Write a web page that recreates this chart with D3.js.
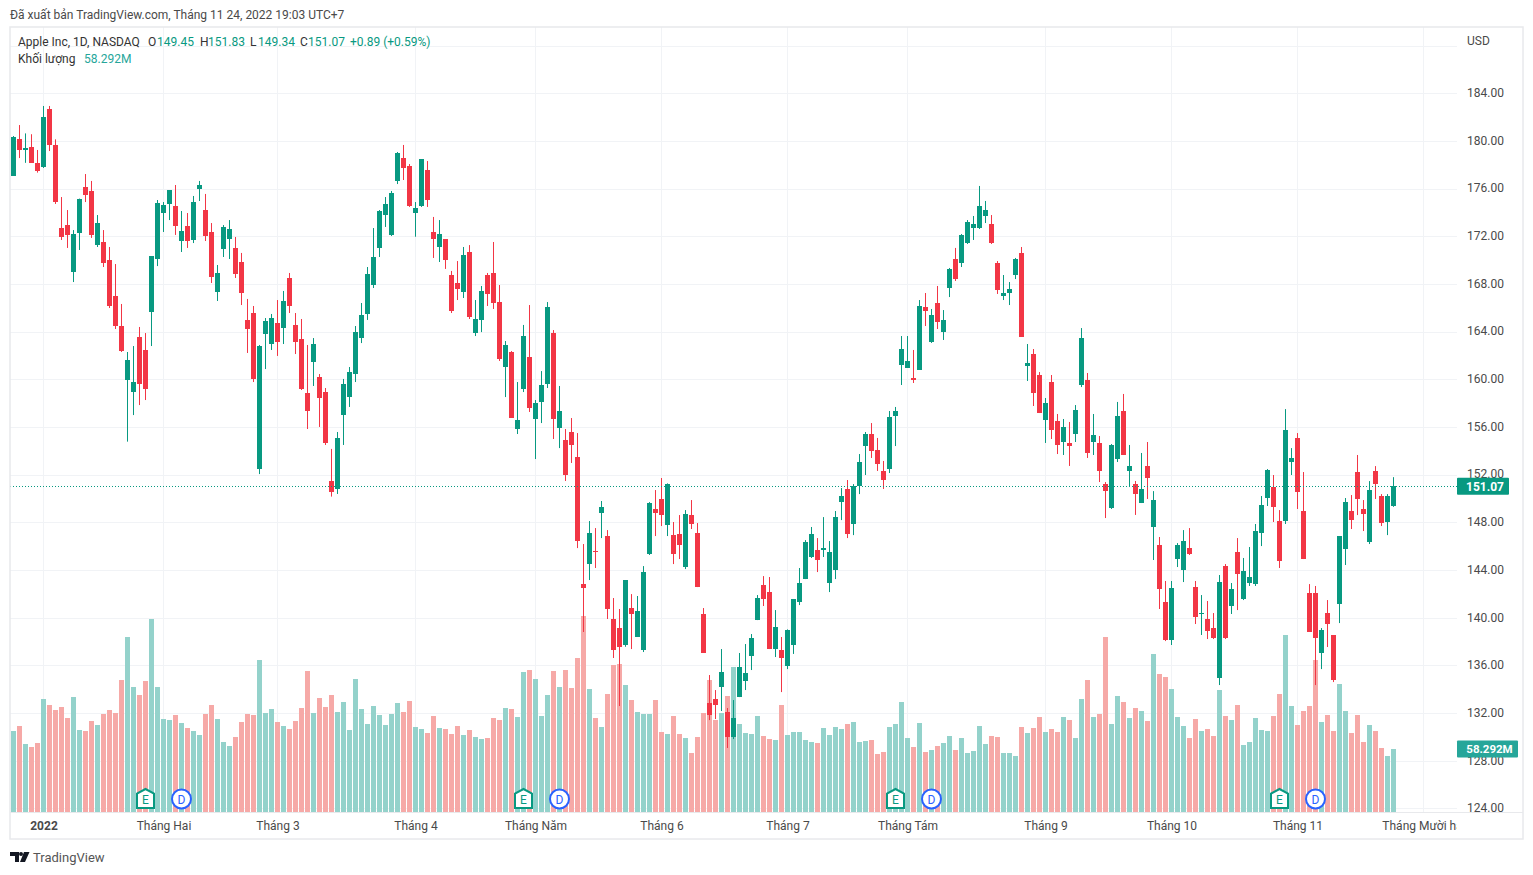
<!DOCTYPE html>
<meta charset="utf-8">
<style>
    body { margin: 0; background: #fff; }
    text { font-family: "Roboto"; font-size: 12px; fill: #4a4a4a; }
    .axis path, .axis line { display: none; }
</style>
<svg width="1533" height="875"></svg>
<script src="https://d3js.org/d3.v7.min.js"></script>
<script>

    var opens = [177.1, 180.17, 179.3, 179.53, 178.19, 177.82, 182.72, 179.7, 172.73, 172.98,
        169.04, 172.31, 176.17, 175.84, 171.31, 171.56, 170.05, 167.03, 164.51, 159.98,
        158.97, 163.59, 162.5, 165.69, 170.13, 173.99, 174.75, 174.58, 171.64, 172.9,
        171.72, 176.0, 174.24, 172.4, 167.36, 170.97, 171.81, 171.06, 169.88, 165.02,
        165.6, 152.51, 163.84, 163.0, 164.76, 164.34, 168.54, 164.59, 163.42, 158.89,
        161.49, 160.23, 158.97, 151.51, 150.84, 157.05, 158.55, 160.48, 163.5, 165.52,
        167.95, 171.06, 173.82, 172.15, 176.68, 178.6, 177.93, 174.0, 174.58, 177.6,
        172.4, 171.14, 171.81, 168.79, 168.12, 167.36, 170.72, 163.92, 165.02, 168.79,
        168.96, 166.52, 161.07, 162.33, 155.87, 159.23, 161.91, 156.71, 158.14, 159.65,
        163.92, 155.95, 154.95, 155.62, 153.52, 142.86, 144.54, 145.63, 148.82, 146.89,
        139.93, 139.17, 137.75, 140.85, 138.42, 137.33, 145.38, 149.16, 150.0, 147.81,
        146.97, 147.06, 144.29, 148.65, 147.14, 140.35, 132.88, 133.22, 134.22, 132.13,
        130.03, 133.38, 134.73, 136.82, 139.84, 142.78, 142.19, 137.41, 137.33, 135.98,
        137.75, 141.35, 143.28, 145.13, 145.72, 145.72, 142.95, 144.04, 149.74, 150.83,
        147.9, 151.09, 154.44, 155.45, 154.11, 152.35, 152.52, 156.96, 161.24, 160.99,
        160.15, 160.82, 166.11, 163.17, 166.44, 164.01, 167.7, 170.13, 169.8, 171.47,
        172.73, 172.73, 173.74, 173.07, 169.8, 167.03, 167.28, 168.79, 170.64, 161.16,
        162.16, 160.4, 156.63, 159.81, 156.54, 154.78, 154.7, 155.45, 159.56, 159.98,
        154.78, 154.7, 151.26, 149.24, 153.35, 157.38, 152.35, 151.26, 149.66, 152.77,
        147.65, 146.14, 141.35, 138.17, 144.96, 144.04, 145.88, 142.61, 140.38, 139.93,
        139.17, 134.98, 144.37, 141.02, 145.55, 141.61, 142.95, 142.86, 147.14, 150.08,
        151.0, 148.15, 148.15, 153.1, 155.11, 148.99, 142.11, 142.11, 137.08, 140.43,
        138.58, 141.19, 145.8, 148.99, 152.26, 149.16, 146.39, 152.34, 150.25, 148.07,
        149.45];

    var highs = [180.45, 181.37, 180.67, 180.6, 179.28, 182.97, 182.97, 180.17, 175.33, 174.24,
        172.56, 175.2, 177.26, 176.68, 173.82, 172.56, 171.14, 169.71, 166.36, 162.33,
        162.83, 164.43, 163.92, 170.38, 175.08, 174.91, 175.92, 176.34, 174.16, 173.99,
        175.42, 176.68, 175.59, 173.15, 169.63, 172.98, 173.4, 171.98, 170.64, 166.78,
        166.19, 162.92, 165.18, 165.52, 166.69, 167.45, 168.96, 165.6, 165.1, 162.92,
        163.5, 160.48, 159.31, 154.2, 155.62, 160.07, 161.07, 164.51, 166.44, 169.46,
        172.73, 174.24, 175.33, 175.84, 179.11, 179.7, 178.1, 174.91, 178.52, 178.35,
        173.66, 173.4, 171.81, 169.13, 169.96, 171.14, 171.3, 166.69, 167.87, 168.96,
        171.56, 167.95, 163.25, 162.41, 159.81, 164.6, 166.27, 158.3, 160.73, 166.52,
        164.17, 159.48, 155.87, 156.79, 155.53, 146.22, 148.15, 147.56, 149.83, 147.39,
        141.69, 140.77, 143.2, 142.02, 141.86, 144.37, 149.74, 150.75, 151.76, 151.31,
        148.07, 148.65, 149.07, 149.91, 147.98, 140.85, 135.23, 133.97, 137.41, 132.46,
        133.13, 137.08, 137.83, 138.67, 141.94, 143.53, 143.45, 140.68, 138.42, 139.06,
        141.61, 144.21, 146.55, 147.65, 146.72, 148.48, 146.47, 148.99, 150.92, 151.59,
        151.25, 153.77, 155.62, 156.37, 155.12, 153.19, 157.38, 157.72, 163.67, 163.67,
        162.5, 166.69, 167.28, 165.94, 167.87, 165.85, 169.38, 171.06, 172.23, 173.4,
        173.74, 176.26, 175.0, 173.82, 169.96, 168.79, 168.2, 170.22, 171.14, 163.0,
        162.58, 160.65, 158.47, 160.4, 157.13, 156.71, 156.46, 157.88, 164.34, 160.57,
        157.13, 155.28, 151.42, 154.61, 158.14, 158.81, 154.53, 151.51, 153.86, 154.78,
        150.66, 146.81, 143.12, 143.12, 146.3, 147.39, 147.56, 143.12, 141.94, 141.44,
        140.43, 143.62, 144.54, 142.95, 146.72, 145.05, 145.97, 147.9, 150.25, 152.51,
        152.01, 149.07, 157.54, 154.27, 155.53, 152.26, 142.86, 142.7, 139.17, 141.52,
        138.58, 146.89, 150.08, 150.33, 153.69, 149.91, 151.5, 152.76, 150.41, 150.41,
        151.83];

    var lows = [177.1, 178.6, 178.2, 178.2, 177.38, 177.77, 179.19, 174.75, 171.73, 171.06,
        168.2, 170.89, 174.91, 171.9, 171.14, 169.46, 166.02, 164.26, 162.33, 154.81,
        157.04, 157.88, 158.3, 162.83, 169.54, 172.4, 173.4, 172.15, 170.72, 171.06,
        171.47, 175.0, 171.64, 168.12, 166.61, 170.3, 170.13, 168.54, 166.27, 162.25,
        159.81, 152.09, 160.9, 162.5, 162.0, 163.0, 165.6, 162.16, 159.14, 155.87,
        159.48, 156.04, 154.53, 150.2, 150.42, 154.53, 157.72, 159.81, 163.08, 165.02,
        167.7, 170.3, 172.82, 172.06, 176.42, 176.76, 174.5, 172.0, 174.5, 174.5,
        170.22, 169.88, 169.3, 165.6, 166.69, 166.86, 165.1, 163.67, 164.0, 166.19,
        165.94, 161.58, 158.55, 156.8, 155.45, 158.97, 157.3, 153.35, 156.37, 159.31,
        155.03, 154.27, 151.51, 153.02, 145.88, 138.84, 143.2, 144.21, 146.72, 139.93,
        136.66, 132.63, 137.6, 137.41, 138.42, 137.16, 145.3, 146.89, 147.73, 146.89,
        144.54, 144.96, 144.12, 147.48, 142.61, 137.08, 131.45, 131.54, 132.21, 129.11,
        129.86, 133.38, 133.97, 135.65, 139.84, 141.02, 137.41, 136.74, 133.8, 135.73,
        137.0, 141.1, 143.28, 145.05, 143.87, 145.13, 142.19, 143.28, 148.23, 146.72,
        146.97, 150.41, 152.01, 153.44, 152.35, 150.84, 152.18, 154.44, 159.56, 160.99,
        159.73, 160.82, 164.51, 163.09, 164.26, 163.34, 166.94, 168.29, 169.46, 171.39,
        171.73, 172.65, 173.15, 171.39, 167.2, 166.69, 166.27, 168.45, 163.59, 159.9,
        157.8, 157.21, 154.7, 155.03, 153.77, 153.69, 152.77, 154.78, 159.39, 153.44,
        153.69, 151.42, 148.4, 149.16, 153.1, 153.69, 151.0, 148.66, 149.66, 150.0,
        144.88, 140.77, 138.08, 137.75, 144.29, 143.03, 145.3, 139.51, 138.59, 138.25,
        138.25, 134.39, 138.25, 140.35, 140.68, 141.52, 142.7, 142.7, 146.05, 149.41,
        148.07, 144.21, 147.9, 152.01, 149.16, 144.96, 138.84, 134.39, 135.73, 137.58,
        134.64, 139.59, 144.46, 147.48, 148.65, 147.31, 146.22, 150.0, 147.73, 146.97,
        149.34];

    var closes = [180.37, 179.28, 179.42, 178.2, 177.5, 182.04, 179.7, 174.91, 171.98, 172.15,
        172.23, 175.17, 175.5, 172.15, 173.15, 169.8, 166.19, 164.51, 162.41, 161.66,
        159.81, 159.65, 159.23, 170.38, 174.83, 174.66, 175.92, 172.9, 172.48, 171.64,
        174.91, 176.34, 172.06, 168.62, 168.96, 172.8, 172.65, 168.87, 167.28, 164.26,
        160.07, 162.83, 164.93, 165.18, 163.17, 166.61, 166.19, 163.17, 159.23, 157.38,
        163.0, 158.47, 154.67, 150.59, 155.11, 159.65, 160.65, 164.0, 165.43, 168.87,
        170.3, 174.16, 174.75, 175.67, 179.03, 177.77, 174.58, 174.41, 178.52, 175.08,
        171.81, 172.23, 170.05, 165.77, 167.62, 170.47, 165.27, 165.1, 167.45, 167.2,
        166.44, 161.74, 162.92, 156.8, 156.62, 163.67, 157.63, 158.05, 159.56, 166.1,
        156.71, 157.38, 152.01, 154.53, 146.47, 142.53, 147.14, 145.55, 149.32, 140.77,
        137.33, 137.58, 143.2, 140.35, 140.6, 143.87, 149.66, 148.82, 148.65, 151.25,
        145.38, 146.14, 148.74, 147.9, 142.61, 137.08, 131.87, 132.71, 135.48, 130.03,
        131.62, 135.9, 135.4, 138.33, 141.69, 141.61, 137.41, 139.26, 136.66, 139.0,
        141.61, 142.95, 146.39, 147.06, 144.88, 145.88, 145.55, 148.48, 150.25, 147.06,
        151.09, 153.1, 155.45, 154.02, 152.93, 151.59, 156.88, 157.38, 162.58, 161.58,
        159.98, 166.19, 165.77, 165.43, 164.85, 165.02, 169.29, 168.45, 172.15, 173.24,
        173.07, 174.58, 174.24, 171.47, 167.53, 167.28, 167.62, 170.13, 163.59, 161.41,
        158.89, 157.21, 158.05, 155.79, 154.53, 156.04, 154.44, 157.47, 163.5, 153.86,
        155.37, 152.35, 150.67, 154.53, 156.96, 153.69, 152.77, 150.42, 150.84, 151.76,
        149.91, 142.44, 138.17, 142.53, 146.14, 146.47, 145.38, 140.1, 140.46, 138.92,
        138.33, 143.03, 138.33, 142.44, 143.7, 143.95, 143.45, 147.31, 149.49, 152.43,
        149.32, 144.79, 155.78, 153.43, 150.58, 144.96, 138.84, 138.33, 139.0, 139.51,
        134.81, 146.89, 149.74, 148.23, 150.0, 148.74, 150.75, 151.25, 147.98, 150.25,
        151.07];

    // volume in millions
    var volumes = [74.9, 79.6, 62.9, 60.1, 63.8, 104.5, 99.0, 94.4, 97.1, 87.0,
        106.4, 75.9, 74.9, 84.2, 80.5, 90.7, 94.4, 91.6, 122.1, 161.9,
        115.7, 108.2, 121.2, 178.6, 115.7, 86.0, 85.1, 89.7, 82.3, 77.7,
        74.9, 71.2, 90.7, 99.0, 86.0, 64.8, 61.1, 69.4, 83.3, 90.7,
        89.7, 140.6, 91.6, 95.3, 83.3, 79.6, 76.8, 84.2, 96.2, 130.5,
        91.6, 105.5, 97.1, 108.2, 92.5, 101.8, 75.9, 123.1, 95.3, 81.4,
        98.1, 89.7, 80.5, 90.7, 100.8, 92.5, 102.7, 78.6, 76.8, 73.1,
        88.8, 77.7, 76.8, 72.2, 79.6, 71.2, 75.9, 69.4, 67.5, 68.5,
        87.0, 85.1, 96.2, 95.3, 87.9, 129.5, 131.4, 123.1, 88.8, 108.2,
        130.5, 115.7, 131.4, 114.7, 142.5, 181.3, 113.8, 87.0, 78.6, 109.2,
        136.0, 136.9, 117.5, 103.6, 92.5, 90.7, 90.7, 103.6, 74.0, 72.2,
        88.8, 72.2, 68.5, 54.6, 69.4, 91.6, 122.1, 85.1, 91.6, 107.3,
        134.2, 81.4, 73.1, 72.2, 88.8, 70.3, 67.5, 66.6, 99.0, 71.2,
        74.0, 74.0, 66.6, 64.8, 63.8, 77.7, 71.2, 78.6, 76.8, 81.4,
        83.3, 64.8, 65.7, 66.6, 53.7, 55.5, 78.6, 81.4, 101.8, 68.5,
        60.1, 82.3, 55.5, 57.4, 61.1, 63.8, 70.3, 57.4, 68.5, 54.6,
        56.4, 79.6, 62.9, 70.3, 69.4, 54.6, 54.6, 51.8, 78.6, 73.1,
        77.7, 87.9, 74.0, 76.8, 74.0, 87.9, 85.1, 68.5, 104.5, 122.1,
        87.9, 90.7, 161.9, 81.4, 107.3, 101.8, 87.0, 96.2, 93.4, 84.2,
        146.2, 127.7, 124.9, 113.8, 87.9, 79.6, 68.5, 86.0, 74.9, 76.8,
        70.3, 112.9, 88.8, 85.1, 99.0, 62.0, 64.8, 87.0, 75.9, 74.9,
        88.8, 109.2, 163.8, 98.1, 80.5, 93.4, 98.1, 140.6, 83.3, 89.7,
        74.9, 118.4, 93.4, 73.1, 89.7, 64.8, 80.5, 74.9, 59.2, 51.8,
        58.292];

    var priceTicks = [124, 128, 132, 136, 140, 144, 148, 152, 156, 160, 164, 168, 172, 176, 180, 184];
    var gridPrices = priceTicks.concat([188]);

    // bar index of the first session of each month
    var monthIndex = [5, 25, 44, 67, 87, 108, 129, 149, 172, 193, 214, 235];
    var monthLabels = ["2022", "Tháng Hai", "Tháng 3", "Tháng 4", "Tháng Năm", "Tháng 6", "Tháng 7", "Tháng Tám", "Tháng 9", "Tháng 10", "Tháng 11", "Tháng Mười hai"];

    var earningsIndex = [22, 85, 147, 211];
    var dividendIndex = [28, 91, 153, 217];

    var lastPrice = 151.07;
    var lastVolume = 58.292;

    var upColor = "#089981", downColor = "#f23645",
        upVolColor = "#94d2cb", downVolColor = "#f6a9a7",
        gridColor = "#f1f3f6", frameColor = "#e8e9ec";

    var svg = d3.select("svg"),
        plot = {left: 10, right: 1457, top: 27, bottom: 812};

    var x = d3.scaleLinear().domain([0, 230]).range([13.5, 1393.5]),
        y = d3.scaleLinear().domain([124, 184]).range([808.9, 93.7]),
        yVol = d3.scaleLinear().domain([0, 100]).range([812, 703.9]);

    var barWidth = 5;

    // keep 1px lines sharp
    var crisp = function(v) { return Math.floor(v) + 0.5; };

    var defs = svg.append("defs");
    defs.append("clipPath").attr("id", "time-clip").append("rect")
        .attr("x", plot.left).attr("y", plot.bottom)
        .attr("width", plot.right - plot.left).attr("height", 27);
    defs.append("clipPath").attr("id", "price-clip").append("rect")
        .attr("x", plot.right).attr("y", plot.top)
        .attr("width", 66).attr("height", plot.bottom - plot.top);

    // header
    svg.append("text").attr("x", 10).attr("y", 18.5).text("Đã xuất bản TradingView.com, Tháng 11 24, 2022 19:03 UTC+7");

    // grid
    svg.append("g").selectAll("line")
        .data(gridPrices)
        .enter().append("line")
        .attr("x1", plot.left).attr("x2", plot.right)
        .attr("y1", function(d) { return crisp(y(d)); })
        .attr("y2", function(d) { return crisp(y(d)); })
        .attr("stroke", gridColor);

    svg.append("g").selectAll("line")
        .data(monthIndex)
        .enter().append("line")
        .attr("x1", function(d) { return x(d); })
        .attr("x2", function(d) { return x(d); })
        .attr("y1", plot.top).attr("y2", plot.bottom)
        .attr("stroke", gridColor);

    var isUp = function(i) { return closes[i] >= opens[i]; };
    var index = d3.range(opens.length);

    // volume sits behind the candles
    svg.append("g").selectAll("rect")
        .data(index)
        .enter().append("rect")
        .attr("x", function(i) { return x(i) - barWidth / 2; })
        .attr("width", barWidth)
        .attr("y", function(i) { return Math.round(yVol(volumes[i])); })
        .attr("height", function(i) { return yVol(0) - Math.round(yVol(volumes[i])); })
        .attr("fill", function(i) { return isUp(i) ? upVolColor : downVolColor; });

    var candles = svg.append("g");

    candles.selectAll("line")
        .data(index)
        .enter().append("line")
        .attr("x1", function(i) { return x(i); })
        .attr("x2", function(i) { return x(i); })
        .attr("y1", function(i) { return y(highs[i]); })
        .attr("y2", function(i) { return y(lows[i]); })
        .attr("stroke", function(i) { return isUp(i) ? upColor : downColor; });

    candles.selectAll("rect")
        .data(index)
        .enter().append("rect")
        .attr("x", function(i) { return x(i) - barWidth / 2; })
        .attr("width", barWidth)
        .attr("y", function(i) { return Math.round(y(Math.max(opens[i], closes[i]))); })
        .attr("height", function(i) { return Math.max(1, Math.round(y(Math.min(opens[i], closes[i]))) - Math.round(y(Math.max(opens[i], closes[i])))); })
        .attr("fill", function(i) { return isUp(i) ? upColor : downColor; });

    // last price line
    svg.append("line")
        .attr("x1", plot.left).attr("x2", plot.right)
        .attr("y1", crisp(y(lastPrice))).attr("y2", crisp(y(lastPrice)))
        .attr("stroke", upColor)
        .attr("stroke-dasharray", "1 2");

    // earnings and dividend flags
    var flags = svg.append("g");

    var earnings = flags.selectAll(".earnings")
        .data(earningsIndex)
        .enter().append("g")
        .attr("transform", function(d) { return "translate(" + x(d) + ",799)"; });
    earnings.append("path")
        .attr("d", "M0,-10 L8.5,-5.5 L8.5,9 L-8.5,9 L-8.5,-5.5 Z")
        .attr("fill", "#fff").attr("stroke", upColor).attr("stroke-width", 2);
    earnings.append("text")
        .attr("text-anchor", "middle").attr("y", 4.5)
        .style("fill", upColor)
        .text("E");

    var dividends = flags.selectAll(".dividends")
        .data(dividendIndex)
        .enter().append("g")
        .attr("transform", function(d) { return "translate(" + x(d) + ",799)"; });
    dividends.append("circle")
        .attr("r", 9.5)
        .attr("fill", "#fff").attr("stroke", "#2962ff").attr("stroke-width", 2);
    dividends.append("text")
        .attr("text-anchor", "middle").attr("y", 4.5)
        .style("fill", "#2962ff")
        .text("D");

    // axes
    svg.append("g")
        .attr("class", "axis")
        .attr("clip-path", "url(#price-clip)")
        .append("g")
        .attr("transform", "translate(1467,-1)")
        .call(d3.axisRight(y).tickValues(priceTicks).tickFormat(d3.format(".2f")).tickSize(0).tickPadding(0))
        .attr("font-family", null).attr("font-size", null);

    svg.append("g")
        .attr("class", "axis")
        .attr("clip-path", "url(#time-clip)")
        .append("g")
        .attr("transform", "translate(0," + plot.bottom + ")")
        .call(d3.axisBottom(x).tickValues(monthIndex).tickFormat(function(d, i) { return monthLabels[i]; }).tickSize(0).tickPadding(9))
        .attr("font-family", null).attr("font-size", null)
        .selectAll("text")
        .style("font-weight", function(d, i) { return i === 0 ? "bold" : null; });

    svg.append("text").attr("x", 1467).attr("y", 45).text("USD");

    // frame
    svg.append("rect")
        .attr("x", 10).attr("y", 27).attr("width", 1513).attr("height", 812)
        .attr("fill", "none").attr("stroke", frameColor).attr("stroke-width", 1.5);
    svg.append("line")
        .attr("x1", plot.left).attr("x2", 1523)
        .attr("y1", plot.bottom + 0.5).attr("y2", plot.bottom + 0.5)
        .attr("stroke", frameColor);

    // price and volume labels
    svg.append("rect")
        .attr("x", plot.right).attr("y", y(lastPrice) - 8.5).attr("width", 52).attr("height", 17)
        .attr("rx", 1).attr("fill", upColor);
    svg.append("text")
        .attr("x", plot.right + 28).attr("y", y(lastPrice) + 4.5)
        .attr("text-anchor", "middle")
        .style("fill", "#fff").style("font-weight", "bold")
        .text(d3.format(".2f")(lastPrice));

    svg.append("rect")
        .attr("x", plot.right).attr("y", yVol(lastVolume) - 8.5).attr("width", 61).attr("height", 17)
        .attr("rx", 1).attr("fill", "#26a69a");
    svg.append("text")
        .attr("x", plot.right + 32.5).attr("y", yVol(lastVolume) + 4.5)
        .attr("text-anchor", "middle")
        .style("fill", "#fff").style("font-weight", "bold").style("font-size", "11.5px")
        .text(lastVolume + "M");

    // legend
    var legend = [
        {x: 18, t: "Apple Inc, 1D, NASDAQ", c: "#333"},
        {x: 148, t: "O", c: "#333"}, {x: 157, t: "149.45", c: upColor},
        {x: 200, t: "H", c: "#333"}, {x: 208, t: "151.83", c: upColor},
        {x: 250, t: "L", c: "#333"}, {x: 258, t: "149.34", c: upColor},
        {x: 300, t: "C", c: "#333"}, {x: 308, t: "151.07", c: upColor},
        {x: 350, t: "+0.89 (+0.59%)", c: upColor}
    ];
    svg.append("g").selectAll("text")
        .data(legend)
        .enter().append("text")
        .attr("x", function(d) { return d.x; })
        .attr("y", 46)
        .style("fill", function(d) { return d.c; })
        .text(function(d) { return d.t; });

    svg.append("text").attr("x", 18).attr("y", 63).style("fill", "#333").text("Khối lượng");
    svg.append("text").attr("x", 84).attr("y", 63).style("fill", "#26a69a").text(lastVolume + "M");

    // logo
    svg.append("path")
        .attr("d", "M10,852 H19 V862 H15 V856 H10 Z M24,852 H29.5 L25,862 H20 Z")
        .attr("fill", "#131722");
    svg.append("circle").attr("cx", 21).attr("cy", 854).attr("r", 2).attr("fill", "#131722");
    svg.append("text").attr("x", 33).attr("y", 862)
        .style("font-size", "13px").style("fill", "#555")
        .text("TradingView");

</script>
